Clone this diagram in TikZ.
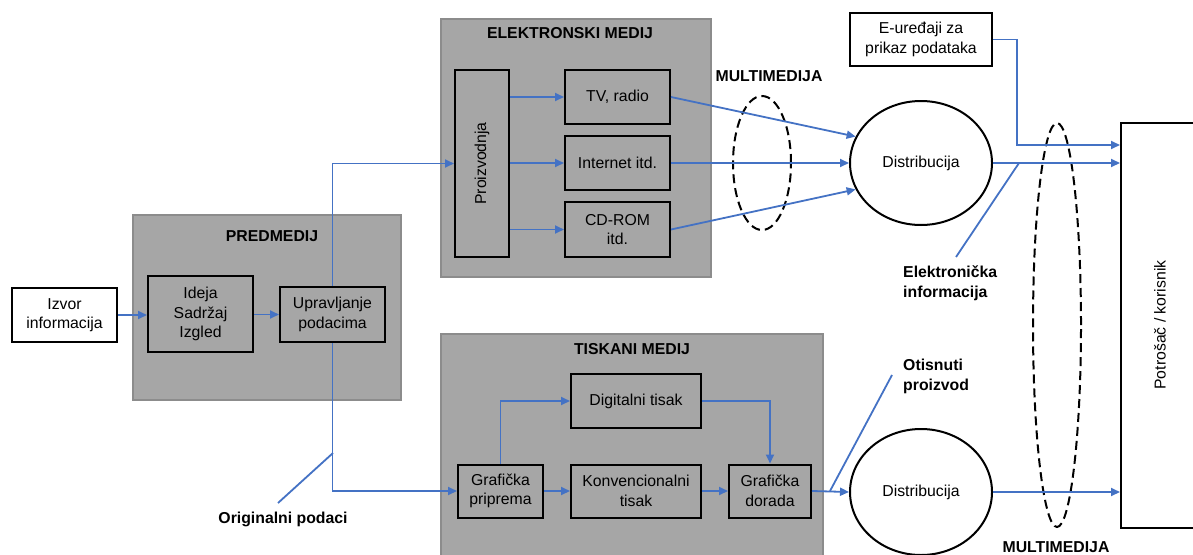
\documentclass[tikz,border=0pt]{standalone}
\usepackage{fontspec}
\setmainfont{Liberation Sans}
\usetikzlibrary{arrows.meta,shapes.geometric,calc}
\definecolor{panelgray}{HTML}{A6A6A6}
\definecolor{panelborder}{HTML}{8C8C8C}
\definecolor{linkblue}{HTML}{4472C4}
\tikzset{
  panel/.style={draw=panelborder,line width=2pt,fill=panelgray,rectangle,inner sep=0pt},
  blk/.style={draw=black,line width=2pt,rectangle,align=center,inner sep=0pt,font=\fontsize{15.8}{19.5}\selectfont},
  wblk/.style={blk,fill=white},
  ell/.style={draw=black,line width=2pt,ellipse,inner sep=0pt,font=\fontsize{15.8}{19.5}\selectfont},
  dashell/.style={draw=black,line width=2pt,ellipse,inner sep=0pt,dash pattern=on 9pt off 5pt},
  ttl/.style={font=\bfseries\fontsize{15.8}{19.5}\selectfont,inner sep=0pt,align=center},
  lbl/.style={font=\bfseries\fontsize{15.8}{20}\selectfont,inner sep=0pt,align=left},
  arr/.style={draw=linkblue,line width=1.8pt,-{Triangle[length=9pt,width=8pt]}},
  ln/.style={draw=linkblue,line width=1.8pt},
}
\begin{document}
\begin{tikzpicture}[x=1pt,y=-1pt]
\useasboundingbox (0,0) rectangle (1193,554);
% panels
\node[panel,minimum width=268pt,minimum height=185pt] (pred) at (267,307.5) {};
\node[ttl] (predt) at (272,236) {PREDMEDIJ};
\node[panel,minimum width=270pt,minimum height=258pt] (elek) at (576,148) {};
\node[ttl] (elekt) at (570,33) {ELEKTRONSKI MEDIJ};
\node[panel,minimum width=382pt,minimum height=226pt] (tisk) at (632,447) {};
\node[ttl] (tiskt) at (632,349) {TISKANI MEDIJ};
% boxes
\node[wblk,minimum width=105pt,minimum height=54pt] (izvor) at (64.5,315) {Izvor\\informacija};
\node[blk,minimum width=105pt,minimum height=76pt] (ideja) at (200.5,314) {Ideja\\Sadržaj\\Izgled};
\node[blk,minimum width=105pt,minimum height=55pt] (uprav) at (332.5,314.5) {Upravljanje\\podacima};
\node[blk,minimum width=54pt,minimum height=187pt] (proiz) at (482,163.5) {};
\node[font=\fontsize{15.8}{19.5}\selectfont,rotate=90,inner sep=0pt] (proizt) at (482,163.5) {Proizvodnja};
\node[blk,minimum width=105pt,minimum height=54pt] (tv) at (617.5,97) {TV, radio};
\node[blk,minimum width=105pt,minimum height=54pt] (inet) at (617.5,163) {Internet itd.};
\node[blk,minimum width=105pt,minimum height=55pt] (cd) at (617.5,229.5) {CD-ROM\\itd.};
\node[blk,minimum width=130pt,minimum height=54pt] (digi) at (636,401) {Digitalni tisak};
\node[blk,minimum width=85pt,minimum height=53pt] (prip) at (500.5,491) {Grafička\\priprema};
\node[blk,minimum width=130pt,minimum height=53pt] (konv) at (636,491) {Konvencionalni\\tisak};
\node[blk,minimum width=82pt,minimum height=53pt] (dor) at (770,491) {Grafička\\dorada};
\node[wblk,minimum width=142pt,minimum height=53pt] (eured) at (921,39.5) {E-uređaji za\\prikaz podataka};
\node[ell,minimum width=142pt,minimum height=124pt] (dist1) at (921,163) {Distribucija};
\node[ell,minimum width=142pt,minimum height=126pt] (dist2) at (921,492) {Distribucija};
\node[blk,minimum width=120pt,minimum height=405pt] (potr) at (1181,325.5) {};
\node[font=\fontsize{15.8}{19.5}\selectfont,rotate=90,inner sep=0pt] (potrt) at (1160,325) {Potrošač / korisnik};
% dashed ellipses
\node[dashell,minimum width=58pt,minimum height=134pt] (mme1) at (762,163) {};
\node[dashell,minimum width=48pt,minimum height=404pt] (mme2) at (1057,325) {};
\node[ttl] (mm1) at (769,76) {MULTIMEDIJA};
\node[ttl] (mm2) at (1056,547) {MULTIMEDIJA};
% labels
\node[lbl] (orig) at (283,519) {Originalni podaci};
\node[lbl,anchor=west] (elinf) at (903,283) {Elektronička\\informacija};
\node[lbl,anchor=west] (otis) at (903,376) {Otisnuti\\proizvod};
% connectors
\draw[arr] (izvor.east) -- (izvor.east -| ideja.west);
\draw[arr] (ideja.east |- uprav) -- (uprav.west);
\draw[arr] (uprav.north) |- (proiz.west);
\draw[arr] (uprav.south) |- (prip.west);
\draw[arr] (proiz.east |- tv) -- (tv.west);
\draw[arr] (proiz.east |- inet) -- (inet.west);
\draw[arr] (proiz.east |- cd) -- (cd.west);
\draw[arr] (tv.east) -- (dist1.158);
\draw[arr] (inet.east) -- (dist1.west);
\draw[arr] (cd.east) -- (dist1.202);
\coordinate (ejog) at (1017,145);
\draw[arr] (eured.east) -| (ejog) -- (ejog -| potr.west);
\draw[arr] (dist1.east) -- (dist1.east -| potr.west);
\draw[arr] (prip.east) -- (konv.west);
\draw[arr] (konv.east) -- (dor.west);
\draw[arr] (prip.north) |- (digi.west);
\draw[arr] (digi.east) -| (dor.north);
\draw[arr] (dor.east) -- (dist2.west);
\draw[arr] (dist2.east) -- (dist2.east -| potr.west);
% pointer lines
\coordinate (o1) at (333,453); \coordinate (o2) at (278,503);
\draw[ln] (o1) -- (o2);
\coordinate (e1) at (1019,163); \coordinate (e2) at (956,257);
\draw[ln] (e1) -- (e2);
\coordinate (p1) at (830,491); \coordinate (p2) at (892,375);
\draw[ln] (p1) -- (p2);
\end{tikzpicture}
\end{document}
